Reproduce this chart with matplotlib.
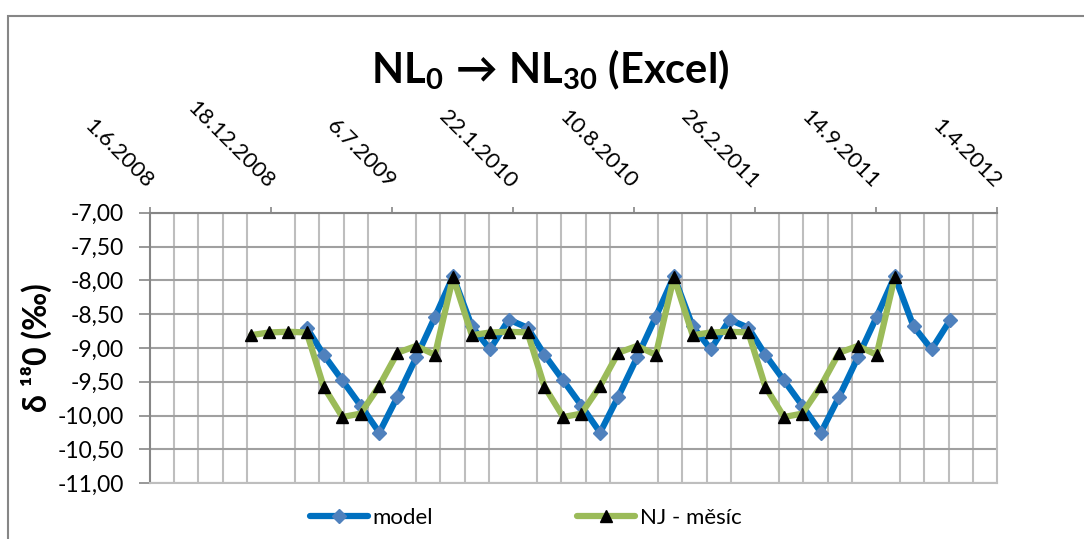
import matplotlib
matplotlib.use("Agg")
import matplotlib.pyplot as plt
import matplotlib.dates as mdates
from matplotlib.ticker import FuncFormatter, MultipleLocator
from matplotlib.patches import Rectangle
import pandas as pd
import datetime as dt

plt.rcParams['font.family'] = ['Lato', 'DejaVu Sans']
plt.rcParams['mathtext.fontset'] = 'custom'
plt.rcParams['mathtext.rm'] = 'Lato'
plt.rcParams['mathtext.bf'] = 'Lato:bold'
plt.rcParams['mathtext.it'] = 'Lato:italic'

# ---- data ----
title_text = r"$\mathbf{NL_0\,\rightarrow\,NL_{30}}$" + " (Excel)"
y_label = "δ ¹⁸0 (‰)"
series_names = ["model", "NJ - měsíc"]

model_first_month = "2009-02-01"
model_values = [
    -8.70, -9.10, -9.48, -9.85, -10.25, -9.72, -9.14, -8.54, -7.94, -8.68, -9.02, -8.58,
    -8.70, -9.10, -9.48, -9.85, -10.25, -9.72, -9.14, -8.54, -7.94, -8.68, -9.02, -8.58,
    -8.70, -9.10, -9.48, -9.85, -10.25, -9.72, -9.14, -8.54, -7.94, -8.68, -9.02, -8.58,
]
nj_first_month = "2008-11-01"
nj_values = [
    -8.81, -8.77, -8.76, -8.77, -9.57, -10.02, -9.97, -9.56, -9.07, -8.97, -9.10, -7.95,
    -8.81, -8.77, -8.76, -8.77, -9.57, -10.02, -9.97, -9.56, -9.07, -8.97, -9.10, -7.95,
    -8.81, -8.77, -8.76, -8.77, -9.57, -10.02, -9.97, -9.56, -9.07, -8.97, -9.10, -7.95,
]
x_min = dt.date(2008, 6, 1)
x_max = dt.date(2012, 4, 1)
major_days = 200
minor_days = 40
y_min, y_max, y_step = -11.0, -7.0, 0.5

# points sit in the middle (15th) of each month
model_dates = pd.date_range(model_first_month, periods=len(model_values), freq="MS") + pd.Timedelta(days=14)
nj_dates = pd.date_range(nj_first_month, periods=len(nj_values), freq="MS") + pd.Timedelta(days=14)

W, H = 1084, 539
fig = plt.figure(figsize=(W / 100, H / 100), dpi=100)
ax = fig.add_axes([150 / W, 1 - 483.3 / H, (997 - 150) / W, (483.3 - 212.7) / H])

# chart border
fig.add_artist(Rectangle((8 / W, -0.2), 1.2, 1.2 - 16 / H, transform=fig.transFigure,
                         fill=False, edgecolor="#868686", lw=1.5))

ax.plot(model_dates, model_values, color="#0070C0", lw=4.5, marker="D", ms=7.5,
        mfc="#4F81BD", mec="#4F81BD", label=series_names[0], zorder=3,
        solid_capstyle="round", solid_joinstyle="round")
ax.plot(nj_dates, nj_values, color="#9BBB59", lw=4.5, marker="^", ms=9,
        mfc="black", mec="black", label=series_names[1], zorder=4,
        solid_capstyle="round", solid_joinstyle="round")

ax.set_xlim(mdates.date2num(x_min), mdates.date2num(x_max))
ax.set_ylim(y_min, y_max)

span = mdates.date2num(x_max) - mdates.date2num(x_min)
major = [mdates.date2num(x_min) + i * major_days for i in range(int(span // major_days) + 1)]
minor = [mdates.date2num(x_min) + i * minor_days for i in range(int(span // minor_days) + 1)]
ax.set_xticks(major)
ax.set_xticks(minor, minor=True)
ax.set_xticklabels([f"{mdates.num2date(v).day}.{mdates.num2date(v).month}.{mdates.num2date(v).year}"
                    for v in major])
ax.xaxis.tick_top()
ax.tick_params(axis="x", which="major", direction="out", length=4, width=1.2, color="#868686",
               labelsize=16, pad=16)
ax.tick_params(axis="x", which="minor", length=0)
for lab in ax.get_xticklabels():
    lab.set_rotation(-45)
    lab.set_ha("right")
    lab.set_va("center")
    lab.set_rotation_mode("anchor")

ax.yaxis.set_major_locator(MultipleLocator(y_step))
ax.yaxis.set_major_formatter(FuncFormatter(lambda v, p: f"{v:.2f}".replace(".", ",")))
ax.tick_params(axis="y", direction="out", length=8, width=1.2, color="#868686",
               labelsize=16.5, pad=11)

ax.grid(True, which="major", axis="y", color="#A0A0A0", lw=1.5, zorder=0)
ax.grid(True, which="minor", axis="x", color="#BEBEBE", lw=1.5, zorder=0)
ax.set_axisbelow(True)
for s in ["top", "left"]:
    ax.spines[s].set_color("#868686")
    ax.spines[s].set_linewidth(1.5)
for s in ["bottom", "right"]:
    ax.spines[s].set_color("#BEBEBE")
    ax.spines[s].set_linewidth(1.5)

ax.set_ylabel(y_label, fontsize=23, fontweight="bold", labelpad=4,
              family=["Lato", "DejaVu Sans"])

fig.text(0.508, 1 - 70 / H, title_text, fontsize=30, fontweight="bold", ha="center", va="center")

fig.legend(loc="center", bbox_to_anchor=(0.485, 1 - 518 / H), ncol=2, frameon=False,
           fontsize=16, handlelength=2.6, columnspacing=6.5, handletextpad=0.2)

fig.savefig("out.png", dpi=100)
